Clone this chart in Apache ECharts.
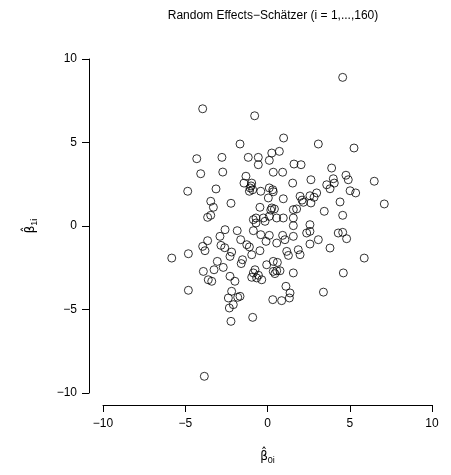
<!DOCTYPE html>
<html><head><meta charset="utf-8">
<script src="https://cdn.jsdelivr.net/npm/echarts@6/dist/echarts.min.js"></script>
<style>html,body{margin:0;padding:0;background:#fff}#c{width:451px;height:475px}</style>
</head><body><div id="c"></div>
<script>
const titleText = "Random Effects\u2212Sch\u00e4tzer (i = 1,...,160)";
const xTicks = [-10, -5, 0, 5, 10];
const yTicks = [-10, -5, 0, 5, 10];
const b0 = [-3.94,-1.67,-0.78,0.98,3.09,4.57,5.26,-4.3,-2.77,-4.06,-2.72,-4.85,-3.13,-3.45,-3.29,-2.22,-3.45,-3.64,
-1.17,-0.56,0.26,0.72,-0.56,0.11,1.61,2.04,0.35,0.92,-1.31,-1.43,-0.96,-1.06,-0.90,-1.1,-0.41,1.53,2.64,0.11,0.32,0.35,
0.05,0.96,1.98,2.58,2.99,2.83,2.18,2.64,-0.46,0.26,0.42,1.57,1.77,3.45,-0.70,-0.86,-0.25,0.11,0.56,0.96,1.57,-0.70,-0.15,1.57,2.58,
3.90,4.77,4.91,4.0,3.6,4.06,3.80,5.02,5.36,6.49,4.41,7.1,4.57,
-2.58,-1.84,-2.89,-3.64,-3.94,-3.80,-2.83,-1.63,-5.82,-4.81,-2.18,-2.28,-1.52,-3.05,-3.25,-2.69,-3.90,-3.60,-3.39,-2.28,-1.98,-4.81,-2.18,-2.38,-1.81,-2.08,-2.32,-2.22,-3.84,-0.90,
-0.86,-0.41,0.11,-0.09,0.56,0.92,1.06,1.57,2.38,2.58,3.09,2.58,-1.26,-1.1,-0.96,-0.46,-1.6,1.17,1.27,1.87,1.98,-0.05,0.35,0.60,0.35,0.56,0.76,1.57,-0.76,-0.86,-0.96,-0.66,-0.35,-1.67,1.12,1.37,1.33,0.32,0.86,3.40,
4.30,4.57,4.81,3.80,5.88,4.61,
0.2,0.45,-0.55,-1.0,2.1,-2.6];
const b1 = [7.02,4.91,6.6,5.27,4.91,8.9,4.67,4.03,4.11,3.13,3.23,2.08,2.22,1.48,1.12,1.36,0.64,0.52,
4.11,4.11,4.37,4.47,3.67,3.93,3.71,3.67,3.22,3.22,2.98,2.57,2.57,2.28,2.17,2.08,2.08,2.57,2.77,2.28,2.17,2.05,
1.68,1.63,1.78,1.81,1.98,1.72,1.42,1.38,1.12,1.08,1.02,0.98,1.02,0.88,0.48,0.38,0.48,0.58,0.48,0.48,0.48,0.18,0.28,0.02,0.08,
3.47,3.04,2.77,2.83,2.47,2.57,2.23,2.11,1.98,2.68,1.44,1.32,0.64,
-0.22,-0.28,-0.62,-0.88,-1.22,-1.48,-1.16,-0.82,-1.92,-1.66,-1.56,-1.82,-2.02,-2.12,-2.62,-2.48,-2.72,-3.22,-3.31,-3.01,-3.31,-3.85,-3.91,-4.31,-4.27,-4.71,-4.91,-5.71,-9.0,-5.47,
-0.28,-0.52,-0.56,-0.92,-1.02,-0.56,-0.82,-0.62,-0.42,-0.32,-0.82,-1.08,-1.12,-1.25,-1.72,-1.48,-2.25,-1.52,-1.76,-1.42,-1.72,-2.32,-2.12,-2.18,-2.72,-2.68,-2.68,-2.81,-2.62,-2.81,-3.07,-3.11,-3.22,-4.21,-3.61,-4.01,-4.31,-4.41,-4.47,-3.96,
-0.42,-0.38,-0.76,-1.32,-1.92,-2.81,
0.95,-2.85,-2.95,2.4,1.55,-1.3];
const pts = b0.map((v, i) => [v, b1[i]]);
const font = 'Liberation Sans, Arial, sans-serif';
const fmt = v => String(v).replace('-', '\u2212');
const chart = echarts.init(document.getElementById('c'), null, {renderer: 'canvas'});
chart.setOption({
  animation: false,
  title: {text: titleText, left: 268, top: 5, textAlign: 'center',
    textStyle: {fontFamily: font, fontSize: 12, fontWeight: 'normal', color: '#000'}},
  grid: {left: 103, top: 59, width: 329, height: 334},
  xAxis: {type: 'value', min: -10, max: 10, interval: 5, offset: 12,
    splitLine: {show: false},
    axisLine: {onZero: false, lineStyle: {color: '#000', width: 1}},
    axisTick: {length: 7, lineStyle: {color: '#000'}},
    axisLabel: {color: '#000', fontFamily: font, fontSize: 12, margin: 13, formatter: fmt},
    name: '{h|\u03b2\u0302}{s|0i}', nameLocation: 'middle', nameGap: 43,
    nameTextStyle: {rich: {h: {fontFamily: 'DejaVu Sans', fontSize: 12, color: '#000'}, s: {fontFamily: font, fontSize: 9, color: '#000', padding: [8,0,0,0]}}}
  },
  yAxis: {type: 'value', min: -10, max: 10, interval: 5, offset: 14,
    splitLine: {show: false},
    axisLine: {onZero: false, lineStyle: {color: '#000', width: 1}},
    axisTick: {length: 7, lineStyle: {color: '#000'}},
    axisLabel: {color: '#000', fontFamily: font, fontSize: 12, margin: 12, formatter: fmt},
    name: '{h|\u03b2\u0302}{s|1i}', nameLocation: 'middle', nameGap: 50, nameRotate: 90,
    nameTextStyle: {rich: {h: {fontFamily: 'DejaVu Sans', fontSize: 12, color: '#000'}, s: {fontFamily: font, fontSize: 9, color: '#000', padding: [8,0,0,0]}}}
  },
  series: [{type: 'scatter', data: pts, symbol: 'circle', symbolSize: 8,
    itemStyle: {color: 'rgba(0,0,0,0)', borderColor: '#000', borderWidth: 1}}]
});
</script></body></html>
